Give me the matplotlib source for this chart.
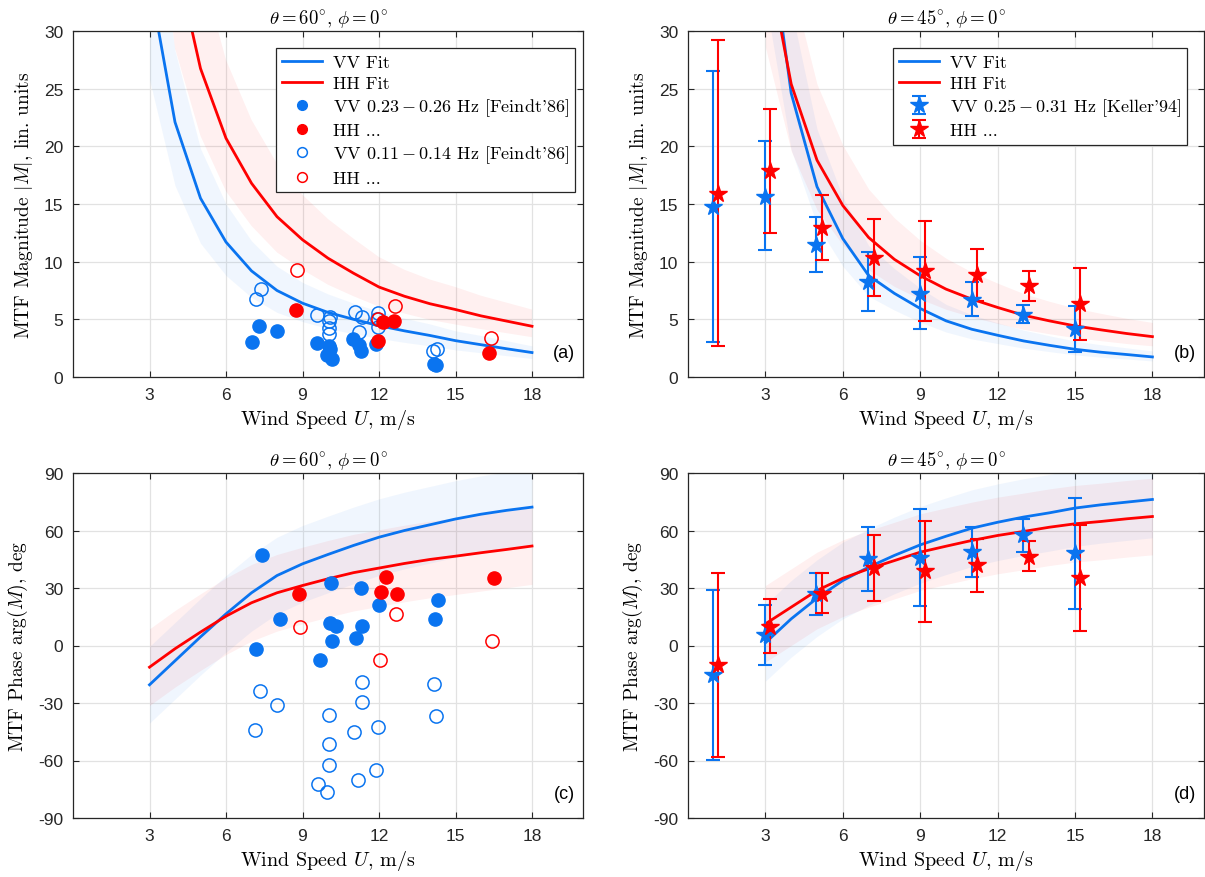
import numpy as np
import matplotlib
matplotlib.use("Agg")
import matplotlib.pyplot as plt

plt.rcParams['mathtext.fontset'] = 'cm'
plt.rcParams['font.family'] = ['Liberation Sans', 'DejaVu Sans']
plt.rcParams['axes.unicode_minus'] = False

# --- fit curves (sampled at integer wind speeds) ---
U_fit = [3, 4, 5, 6, 7, 8, 9, 10, 11, 12, 13, 14, 15, 16, 17, 18]

# (a) magnitude, theta=60
vv_mag_a = [34.4, 22.1, 15.5, 11.7, 9.2, 7.5, 6.4, 5.6, 5.0, 4.45, 4.0, 3.6, 3.15, 2.8, 2.45, 2.12]
hh_mag_a = [60.0, 36.6, 26.75, 20.7, 16.8, 13.9, 11.9, 10.3, 9.0, 7.8, 7.0, 6.35, 5.85, 5.3, 4.85, 4.4]
vv_lo_a = [25.8, 16.6, 11.6, 8.8, 6.9, 5.6, 4.8, 4.2, 3.75, 3.35, 3.0, 2.7, 2.35, 2.1, 1.85, 1.6]
vv_hi_a = [44.0, 28.3, 19.8, 15.0, 11.8, 9.6, 8.2, 7.2, 6.4, 5.7, 5.1, 4.6, 4.0, 3.6, 3.15, 2.7]
hh_lo_a = [46.8, 28.5, 20.9, 16.1, 13.1, 10.8, 9.3, 8.0, 7.0, 6.1, 5.5, 4.95, 4.55, 4.15, 3.8, 3.45]
hh_hi_a = [80.0, 48.7, 35.6, 27.5, 22.3, 18.5, 15.8, 13.7, 12.0, 10.4, 9.3, 8.45, 7.8, 7.05, 6.45, 5.85]

# (b) magnitude, theta=45
vv_mag_b = [41.0, 24.6, 16.5, 12.0, 8.8, 7.25, 5.94, 4.87, 4.14, 3.62, 3.13, 2.75, 2.4, 2.15, 1.95, 1.74]
hh_mag_b = [37.2, 25.4, 18.8, 14.87, 12.1, 10.2, 8.78, 7.62, 6.75, 6.03, 5.36, 4.87, 4.43, 4.09, 3.77, 3.5]
vv_lo_b = [32.8, 19.7, 13.2, 9.6, 7.0, 5.8, 4.75, 3.9, 3.3, 2.9, 2.5, 2.2, 1.92, 1.72, 1.56, 1.39]
vv_hi_b = [53.3, 32.0, 21.5, 15.6, 11.4, 9.4, 7.7, 6.3, 5.4, 4.7, 4.07, 3.58, 3.12, 2.8, 2.53, 2.26]
hh_lo_b = [28.6, 19.6, 14.5, 11.45, 9.3, 7.85, 6.76, 5.87, 5.2, 4.64, 4.13, 3.75, 3.41, 3.15, 2.9, 2.7]
hh_hi_b = [50.2, 34.3, 25.4, 20.1, 16.3, 13.8, 11.85, 10.3, 9.1, 8.14, 7.24, 6.57, 5.98, 5.52, 5.09, 4.73]

# (c), (d) phase
vv_ph_c = [-20.5, -8.0, 4.5, 16.5, 27.5, 36.5, 42.6, 47.5, 52.2, 56.5, 60.0, 63.0, 66.0, 68.5, 70.5, 72.2]
hh_ph_c = [-11.3, -1.7, 7.0, 15.3, 22.3, 27.5, 31.3, 34.8, 38.0, 40.4, 42.8, 44.9, 46.6, 48.4, 50.1, 51.9]
vv_ph_d = [1.4, 13.9, 24.7, 33.9, 40.9, 47.0, 52.5, 57.0, 61.2, 64.3, 67.0, 69.2, 71.7, 73.4, 74.8, 76.2]
hh_ph_d = [11.3, 20.0, 28.7, 35.1, 40.0, 44.3, 48.7, 51.8, 54.8, 57.4, 59.5, 61.7, 63.5, 64.7, 66.1, 67.3]
phase_band = 20.0  # half width of the phase uncertainty band, deg

# --- Feindt'86 scatter, theta=60 ---
vv_fill_U_a = [7.03, 7.28, 8.01, 9.58, 10.04, 9.98, 10.17, 10.08, 10.98, 11.2, 11.28, 11.9, 14.15, 14.22]
vv_fill_M_a = [3.02, 4.43, 3.95, 2.93, 2.7, 1.95, 1.54, 2.4, 3.28, 2.78, 2.23, 2.84, 1.13, 1.05]
hh_fill_U_a = [8.76, 11.96, 12.16, 12.58, 16.31]
hh_fill_M_a = [5.83, 3.08, 4.78, 4.87, 2.12]
vv_open_U_a = [7.16, 7.39, 9.58, 10.09, 10.03, 10.04, 10.04, 11.06, 11.35, 11.22, 11.96, 11.92, 11.96, 14.12, 14.27]
vv_open_M_a = [6.76, 7.65, 5.37, 5.16, 4.87, 4.23, 3.71, 5.6, 5.16, 3.86, 5.51, 5.0, 4.35, 2.26, 2.41]
hh_open_U_a = [8.8, 11.95, 12.62, 16.38]
hh_open_M_a = [9.25, 5.05, 6.17, 3.42]

vv_fill_U_c = [7.41, 7.19, 8.13, 9.67, 10.1, 10.09, 10.3, 10.17, 11.28, 11.33, 11.09, 12.0, 14.31, 14.18]
vv_fill_P_c = [47.3, -1.7, 13.6, -7.5, 32.4, 12.0, 10.1, 2.6, 30.1, 10.1, 4.0, 21.2, 23.5, 13.6]
hh_fill_U_c = [8.86, 12.09, 12.29, 12.71, 16.51]
hh_fill_P_c = [26.8, 27.9, 36.0, 26.8, 35.2]
vv_open_U_c = [7.32, 8.01, 11.35, 11.33, 14.16, 7.14, 10.04, 14.22, 11.0, 11.96, 10.04, 10.02, 11.87, 11.18, 9.61, 9.96]
vv_open_P_c = [-23.5, -30.9, -19.1, -29.7, -20.0, -44.3, -36.0, -36.8, -44.9, -42.6, -51.5, -62.2, -64.7, -70.1, -72.3, -76.5]
hh_open_U_c = [8.89, 12.68, 12.03, 16.45]
hh_open_P_c = [9.4, 16.5, -7.5, 2.1]

# --- Keller'94 data with error bars, theta=45 ---
vv_U_k = [0.96, 3.0, 4.96, 6.99, 8.99, 11.0, 13.0, 15.0]
hh_U_k = [1.18, 3.19, 5.19, 7.2, 9.2, 11.2, 13.2, 15.2]
vv_M_k = [14.78, 15.65, 11.48, 8.26, 7.19, 6.67, 5.39, 4.14]
vv_M_top = [26.5, 20.43, 13.88, 10.87, 10.41, 8.2, 6.23, 6.12]
vv_M_bot = [3.07, 11.0, 9.13, 5.68, 4.14, 5.25, 4.72, 2.17]
hh_M_k = [15.88, 17.86, 12.93, 10.35, 9.22, 8.87, 7.91, 6.32]
hh_M_top = [29.2, 23.28, 15.74, 13.68, 13.54, 11.13, 9.22, 9.48]
hh_M_bot = [2.67, 12.52, 10.17, 7.04, 4.87, 6.61, 6.61, 3.22]
vv_P_k = [-15.3, 5.57, 26.8, 45.2, 45.7, 49.0, 57.4, 48.2]
vv_P_top = [29.2, 20.9, 37.6, 61.7, 71.3, 61.9, 66.1, 77.2]
vv_P_bot = [-59.5, -10.1, 16.0, 28.5, 20.5, 36.0, 48.7, 19.1]
hh_P_k = [-10.4, 9.9, 27.0, 40.5, 38.8, 42.1, 46.4, 35.1]
hh_P_top = [37.6, 24.3, 37.9, 57.9, 65.2, 55.7, 54.6, 63.0]
hh_P_bot = [-58.4, -3.7, 16.7, 23.3, 12.5, 28.0, 38.8, 7.8]

BLUE = '#0a74f0'
RED = '#ff0000'
DARK = '#262626'
SERIF = 'cmr10'

W, H = 1205, 878
fig = plt.figure(figsize=(W / 100, H / 100), dpi=100)


def make_ax(left, top, width, height):
    return fig.add_axes([left / W, 1 - (top + height) / H, width / W, height / H])


axA = make_ax(73, 32, 510, 346)
axB = make_ax(688, 32, 516, 346)
axC = make_ax(73, 474, 510, 345)
axD = make_ax(688, 474, 516, 345)


def style(ax, ylim, yticks, ylabel, title, tag):
    ax.set_xlim(0, 20)
    ax.set_ylim(*ylim)
    ax.set_xticks([3, 6, 9, 12, 15, 18])
    ax.set_yticks(yticks)
    ax.grid(True, color='#e2e2e2', lw=0.9)
    ax.set_axisbelow(True)
    for s in ax.spines.values():
        s.set_color(DARK)
        s.set_linewidth(0.9)
    ax.tick_params(direction='in', top=True, right=True, length=4, width=0.8,
                   colors=DARK, labelsize=12.5, pad=7)
    ax.set_xlabel(r'Wind Speed $U$, m/s', fontfamily=SERIF, fontsize=14.5, labelpad=4)
    ax.set_ylabel(ylabel, fontfamily=SERIF, fontsize=14, labelpad=6)
    ax.set_title(title, fontsize=13.5, pad=6)
    ax.text(0.985, 0.045, tag, transform=ax.transAxes, ha='right', va='bottom',
            fontsize=13, color='black')


mag_label = r'MTF Magnitude $|M|$, lin. units'
ph_label = r'MTF Phase arg$(M)$, deg'
t60 = r'$\theta = 60^{\circ},\, \phi = 0^{\circ}$'
t45 = r'$\theta = 45^{\circ},\, \phi = 0^{\circ}$'

style(axA, (0, 30), range(0, 31, 5), mag_label, t60, '(a)')
style(axB, (0, 30), range(0, 31, 5), mag_label, t45, '(b)')
style(axC, (-90, 90), range(-90, 91, 30), ph_label, t60, '(c)')
style(axD, (-90, 90), range(-90, 91, 30), ph_label, t45, '(d)')

lw_fit = 2.0
ms_dot = 9.5
ms_star = 13

# (a)
axA.fill_between(U_fit, vv_lo_a, vv_hi_a, color=BLUE, alpha=0.06, lw=0)
axA.fill_between(U_fit, hh_lo_a, hh_hi_a, color=RED, alpha=0.06, lw=0)
lvv, = axA.plot(U_fit, vv_mag_a, color=BLUE, lw=lw_fit, label='VV Fit')
lhh, = axA.plot(U_fit, hh_mag_a, color=RED, lw=lw_fit, label='HH Fit')
p1, = axA.plot(vv_fill_U_a, vv_fill_M_a, 'o', color=BLUE, ms=ms_dot,
               label=r"VV $0.23 - 0.26$ Hz [Feindt'86]")
p3, = axA.plot(vv_open_U_a, vv_open_M_a, 'o', mfc='none', mec=BLUE, mew=1.1, ms=ms_dot,
               label=r"VV $0.11 - 0.14$ Hz [Feindt'86]")
p2, = axA.plot(hh_fill_U_a, hh_fill_M_a, 'o', color=RED, ms=ms_dot, label='HH ...')
p4, = axA.plot(hh_open_U_a, hh_open_M_a, 'o', mfc='none', mec=RED, mew=1.1, ms=ms_dot,
               label='HH ...')
legA = axA.legend(handles=[lvv, lhh, p1, p2, p3, p4], loc='upper right',
                  bbox_to_anchor=(0.984, 0.95), prop={'family': SERIF, 'size': 13},
                  fancybox=False, framealpha=1, edgecolor=DARK, handlelength=2.2,
                  labelspacing=0.28, borderpad=0.35, handletextpad=0.6, borderaxespad=0)
legA.get_frame().set_linewidth(0.9)
for h in legA.legend_handles[2:]:
    h.set_markersize(7)

# (b)
axB.fill_between(U_fit, vv_lo_b, vv_hi_b, color=BLUE, alpha=0.06, lw=0)
axB.fill_between(U_fit, hh_lo_b, hh_hi_b, color=RED, alpha=0.06, lw=0)
lvv, = axB.plot(U_fit, vv_mag_b, color=BLUE, lw=lw_fit, label='VV Fit')
lhh, = axB.plot(U_fit, hh_mag_b, color=RED, lw=lw_fit, label='HH Fit')
vm = np.array(vv_M_k)
hm = np.array(hh_M_k)
eb1 = axB.errorbar(vv_U_k, vm, yerr=[vm - np.array(vv_M_bot), np.array(vv_M_top) - vm],
                   fmt='*', color=BLUE, ms=ms_star, elinewidth=1.5, capsize=5, capthick=1.5,
                   label=r"VV $0.25 - 0.31$ Hz [Keller'94]")
eb2 = axB.errorbar(hh_U_k, hm, yerr=[hm - np.array(hh_M_bot), np.array(hh_M_top) - hm],
                   fmt='*', color=RED, ms=ms_star, elinewidth=1.5, capsize=5, capthick=1.5,
                   label='HH ...')
legB = axB.legend(handles=[lvv, lhh, eb1, eb2], loc='upper right',
                  bbox_to_anchor=(0.968, 0.95), prop={'family': SERIF, 'size': 13},
                  fancybox=False, framealpha=1, edgecolor=DARK, handlelength=2.2,
                  labelspacing=0.28, borderpad=0.35, handletextpad=0.6, borderaxespad=0)
legB.get_frame().set_linewidth(0.9)

# (c)
vc = np.array(vv_ph_c)
hc = np.array(hh_ph_c)
axC.fill_between(U_fit, vc - phase_band, vc + phase_band, color=BLUE, alpha=0.06, lw=0)
axC.fill_between(U_fit, hc - phase_band, hc + phase_band, color=RED, alpha=0.06, lw=0)
axC.plot(U_fit, vc, color=BLUE, lw=lw_fit)
axC.plot(U_fit, hc, color=RED, lw=lw_fit)
axC.plot(vv_fill_U_c, vv_fill_P_c, 'o', color=BLUE, ms=ms_dot)
axC.plot(vv_open_U_c, vv_open_P_c, 'o', mfc='none', mec=BLUE, mew=1.1, ms=ms_dot)
axC.plot(hh_fill_U_c, hh_fill_P_c, 'o', color=RED, ms=ms_dot)
axC.plot(hh_open_U_c, hh_open_P_c, 'o', mfc='none', mec=RED, mew=1.1, ms=ms_dot)

# (d)
vd = np.array(vv_ph_d)
hd = np.array(hh_ph_d)
axD.fill_between(U_fit, vd - phase_band, vd + phase_band, color=BLUE, alpha=0.06, lw=0)
axD.fill_between(U_fit, hd - phase_band, hd + phase_band, color=RED, alpha=0.06, lw=0)
axD.plot(U_fit, vd, color=BLUE, lw=lw_fit)
axD.plot(U_fit, hd, color=RED, lw=lw_fit)
vp = np.array(vv_P_k)
hp = np.array(hh_P_k)
axD.errorbar(vv_U_k, vp, yerr=[vp - np.array(vv_P_bot), np.array(vv_P_top) - vp],
             fmt='*', color=BLUE, ms=ms_star, elinewidth=1.5, capsize=5, capthick=1.5)
axD.errorbar(hh_U_k, hp, yerr=[hp - np.array(hh_P_bot), np.array(hh_P_top) - hp],
             fmt='*', color=RED, ms=ms_star, elinewidth=1.5, capsize=5, capthick=1.5)

fig.savefig('out.png', dpi=100)
